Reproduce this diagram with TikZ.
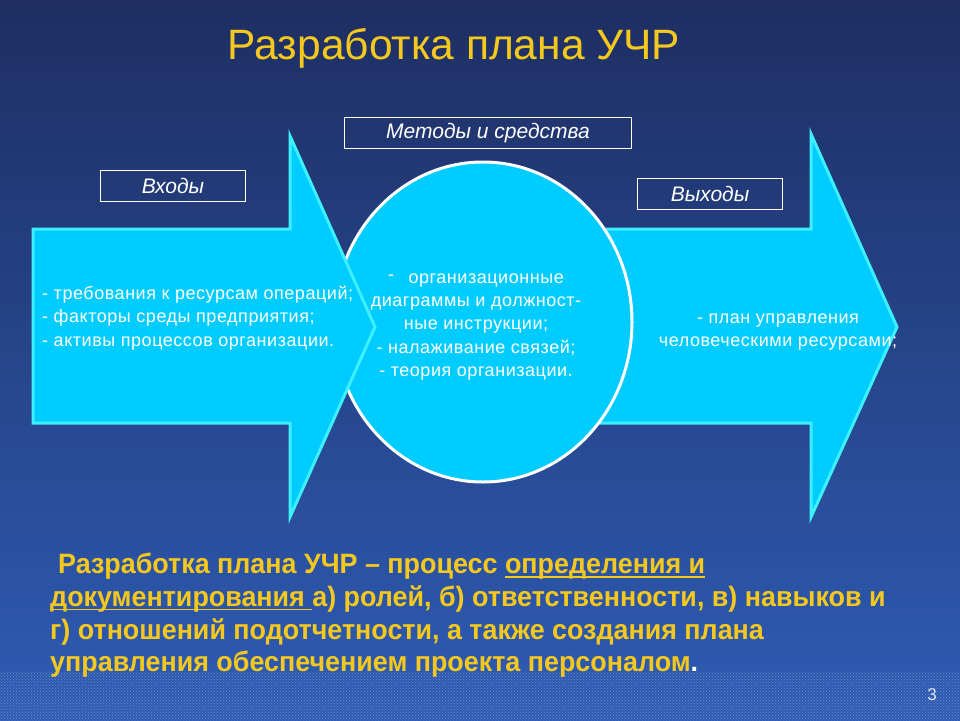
\documentclass[tikz,border=0pt]{standalone}
\usepackage{fontspec}
\setmainfont{Liberation Sans}
\newfontfamily\boldfont[FakeStretch=0.96]{Liberation Sans Bold}
\newfontfamily\spacedfont[LetterSpace=3]{Liberation Sans}
\usetikzlibrary{patterns}
\definecolor{navy}{RGB}{30,46,98}
\definecolor{slideblue}{RGB}{46,92,180}
\definecolor{arrowfill}{RGB}{0,204,255}
\definecolor{arrowedge}{RGB}{60,240,255}
\definecolor{gold}{RGB}{245,200,30}
\newcommand\ulgold[1]{\setbox0\hbox{#1}\rlap{\rule[-4pt]{\wd0}{1.8pt}}\box0}

\begin{document}
\begin{tikzpicture}[x=1pt,y=-1pt,
  bigarrow/.style={fill=arrowfill,draw=arrowedge,line width=3pt,line join=miter},
  lbl/.style={draw=white,line width=1.2pt,minimum width=#1,minimum height=31pt,inner sep=0pt,text=white,font=\fontsize{21}{24}\selectfont\itshape},
  body/.style={text=white,font=\spacedfont\fontsize{18}{23.3}\selectfont}]
\useasboundingbox (0,0) rectangle (960,720);
\shade[top color=navy,bottom color=slideblue] (0,0) rectangle (960,720);
\fill[pattern=crosshatch dots,pattern color=slideblue!70!white] (0,672) rectangle (960,720);
\node[text=gold,font=\fontsize{42.5}{48}\selectfont] (title) at (454,48) {Разработка плана УЧР};
\draw[bigarrow] (560,229) -- (811,229) -- (811,134) -- (897,327) -- (811,517) -- (811,423) -- (560,423) -- cycle;
\filldraw[fill=arrowfill,draw=white,line width=3pt] (483,322) ellipse (149 and 160);
\draw[bigarrow] (33,229) -- (290,229) -- (290,136) -- (375,327) -- (290,517) -- (290,423) -- (33,423) -- cycle;
\node[lbl=145pt] (inputs) at (173,186) {Входы};
\node[lbl=287pt] (methods) at (488,133) {Методы и средства};
\node[lbl=145pt] (outputs) at (710,194) {Выходы};
\node[body,align=left,anchor=north west,inner sep=0pt] (intext) at (42,286) {- требования к ресурсам операций;\\- факторы среды предприятия;\\- активы процессов организации.};
\node[body,align=center,inner sep=0pt] (mtext) at (476,327) {\raisebox{3pt}{-}\hspace{0.8em}организационные\\диаграммы и должност-\\ные инструкции;\\- налаживание связей;\\- теория организации.};
\node[body,align=center,inner sep=0pt] (outtext) at (778,332) {- план управления\\человеческими ресурсами;};
\node[text=gold,align=left,anchor=north west,inner sep=0pt,font=\boldfont\fontsize{28}{32.7}\selectfont] (def) at (50,553)
 {\hspace{8pt}Разработка плана УЧР – процесс \ulgold{определения и}\\\ulgold{документирования\ }а) ролей, б) ответственности, в) навыков и\\г) отношений подотчетности, а также создания плана\\управления обеспечением проекта персоналом{\color{white}.}};
\node[text=white!85!slideblue,font=\fontsize{17}{20}\selectfont] (pagenum) at (932,695) {3};
\end{tikzpicture}
\end{document}
